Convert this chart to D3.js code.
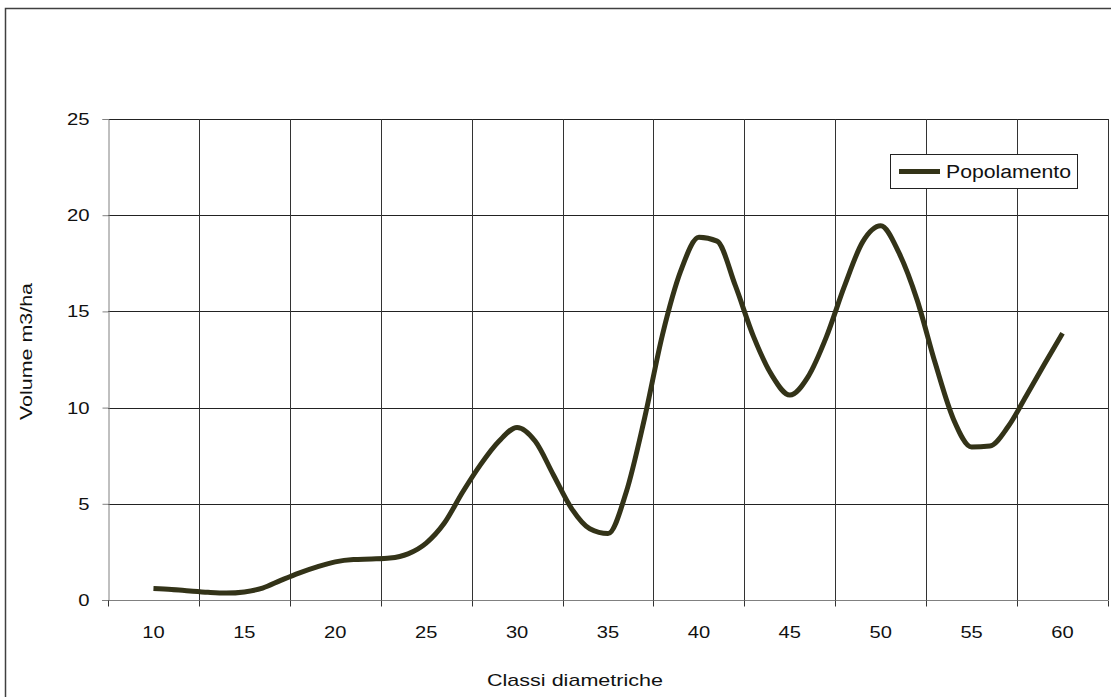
<!DOCTYPE html>
<html>
<head>
<meta charset="utf-8">
<script src="https://cdn.jsdelivr.net/npm/d3@7"></script>
<style>
  html, body { margin: 0; padding: 0; background: #fff; }
  svg { display: block; font-family: "Liberation Sans", Arial, sans-serif; }
</style>
</head>
<body>
<svg id="chart" width="1111" height="697"></svg>
<script>
// ---- data ----
const categoryLabels = ["10", "15", "20", "25", "30", "35", "40", "45", "50", "55", "60"];
const diameters = d3.range(10, 61); // 10..60 cm
const volumes = [
  0.60, 0.55, 0.47, 0.40, 0.36, 0.42, 0.62, 1.02, 1.40, 1.72,
  1.98, 2.10, 2.13, 2.18, 2.40, 2.96, 4.00, 5.60, 7.05, 8.25,
  8.97, 8.25, 6.50, 4.75, 3.70, 3.45, 5.60, 9.40, 13.80, 17.10,
  18.85, 18.65, 16.35, 13.70, 11.70, 10.65, 11.60, 13.65, 16.30, 18.60,
  19.45, 18.05, 15.60, 12.30, 9.40, 7.95, 8.00, 9.00, 10.60, 12.25,
  13.86
];
const yTicks = [0, 5, 10, 15, 20, 25];
const seriesName = "Popolamento";
const xTitle = "Classi diametriche";
const yTitle = "Volume m3/ha";

// ---- layout ----
const svg = d3.select("#chart");
const plot = { left: 108, right: 1108, top: 119, bottom: 600 };
const lineColor = "#333318";
const textColor = "#111";
const fs = 17;

// outer chart frame
svg.append("rect")
  .attr("x", 5.5).attr("y", 8.5)
  .attr("width", 1130).attr("height", 720)
  .attr("fill", "#fff").attr("stroke", "#404040").attr("stroke-width", 1.5);

const xBand = d3.scaleBand().domain(categoryLabels).range([plot.left, plot.right]).paddingInner(0).paddingOuter(0);
const bw = xBand.bandwidth();
const xLin = d3.scaleLinear().domain([10, 60]).range([plot.left + bw / 2, plot.right - bw / 2]);
const y = d3.scaleLinear().domain([0, 25]).range([plot.bottom, plot.top]);

// gridlines
const grid = svg.append("g");
yTicks.slice(1).forEach(t => {
  grid.append("line")
    .attr("x1", plot.left).attr("x2", plot.right)
    .attr("y1", Math.round(y(t)) + 0.5).attr("y2", Math.round(y(t)) + 0.5)
    .attr("stroke", "#222").attr("stroke-width", 1);
});
const boundaries = categoryLabels.map(c => xBand(c)).concat([plot.right]);
boundaries.slice(1).forEach(bx => {
  grid.append("line")
    .attr("x1", Math.round(bx) + 0.5).attr("x2", Math.round(bx) + 0.5)
    .attr("y1", plot.top).attr("y2", plot.bottom)
    .attr("stroke", "#333").attr("stroke-width", 1);
});

// y axis
const yAxis = svg.append("g")
  .attr("transform", `translate(${plot.left + 0.5},0)`)
  .call(d3.axisLeft(y).tickValues(yTicks).tickSize(6).tickPadding(13).tickFormat(d3.format("d")));
yAxis.select(".domain").attr("stroke", "#808080");
yAxis.selectAll(".tick line").attr("stroke", "#808080");
yAxis.selectAll("text")
  .attr("font-size", fs).attr("fill", textColor)
  .attr("font-family", "'Liberation Sans', Arial, sans-serif")
  .attr("textLength", d => String(d).length * 11.3)
  .attr("lengthAdjust", "spacingAndGlyphs");

// x axis (category boundaries as ticks)
const xAxisG = svg.append("g").attr("transform", `translate(0,${plot.bottom + 0.5})`);
xAxisG.append("line").attr("x1", plot.left - 6).attr("x2", plot.right)
  .attr("stroke", "#808080");
boundaries.forEach(bx => {
  xAxisG.append("line")
    .attr("x1", Math.round(bx) + 0.5).attr("x2", Math.round(bx) + 0.5)
    .attr("y1", 0).attr("y2", 6).attr("stroke", "#333");
});
xAxisG.selectAll("text.lbl").data(categoryLabels).join("text")
  .attr("class", "lbl")
  .attr("x", d => xBand(d) + bw / 2 - 11.2)
  .attr("y", 37.5)
  .attr("font-size", fs).attr("fill", textColor)
  .attr("textLength", d => d.length * 11.2)
  .attr("lengthAdjust", "spacingAndGlyphs")
  .text(d => d);

// axis titles
svg.append("text")
  .attr("x", 487).attr("y", 686)
  .attr("font-size", fs).attr("fill", textColor)
  .attr("textLength", 176).attr("lengthAdjust", "spacingAndGlyphs")
  .text(xTitle);
svg.append("text")
  .attr("transform", "translate(32,420) rotate(-90)")
  .attr("font-size", fs).attr("fill", textColor)
  .attr("textLength", 137).attr("lengthAdjust", "spacingAndGlyphs")
  .text(yTitle);

// series line
const pts = diameters.map((d, i) => [d, volumes[i]]);
const line = d3.line()
  .x(d => xLin(d[0]))
  .y(d => y(d[1]))
  .curve(d3.curveMonotoneX);
svg.append("path")
  .datum(pts)
  .attr("d", line)
  .attr("fill", "none")
  .attr("stroke", lineColor)
  .attr("stroke-width", 5)
  .attr("stroke-linejoin", "round")
  .attr("stroke-linecap", "butt");

// legend
const lg = svg.append("g");
lg.append("rect")
  .attr("x", 890.5).attr("y", 154.5).attr("width", 187).attr("height", 34)
  .attr("fill", "#fff").attr("stroke", "#222").attr("stroke-width", 1);
lg.append("line")
  .attr("x1", 899).attr("x2", 940).attr("y1", 171.5).attr("y2", 171.5)
  .attr("stroke", lineColor).attr("stroke-width", 5);
lg.append("text")
  .attr("x", 946).attr("y", 178)
  .attr("font-size", 18).attr("fill", textColor)
  .attr("textLength", 125).attr("lengthAdjust", "spacingAndGlyphs")
  .text(seriesName);
</script>
</body>
</html>
